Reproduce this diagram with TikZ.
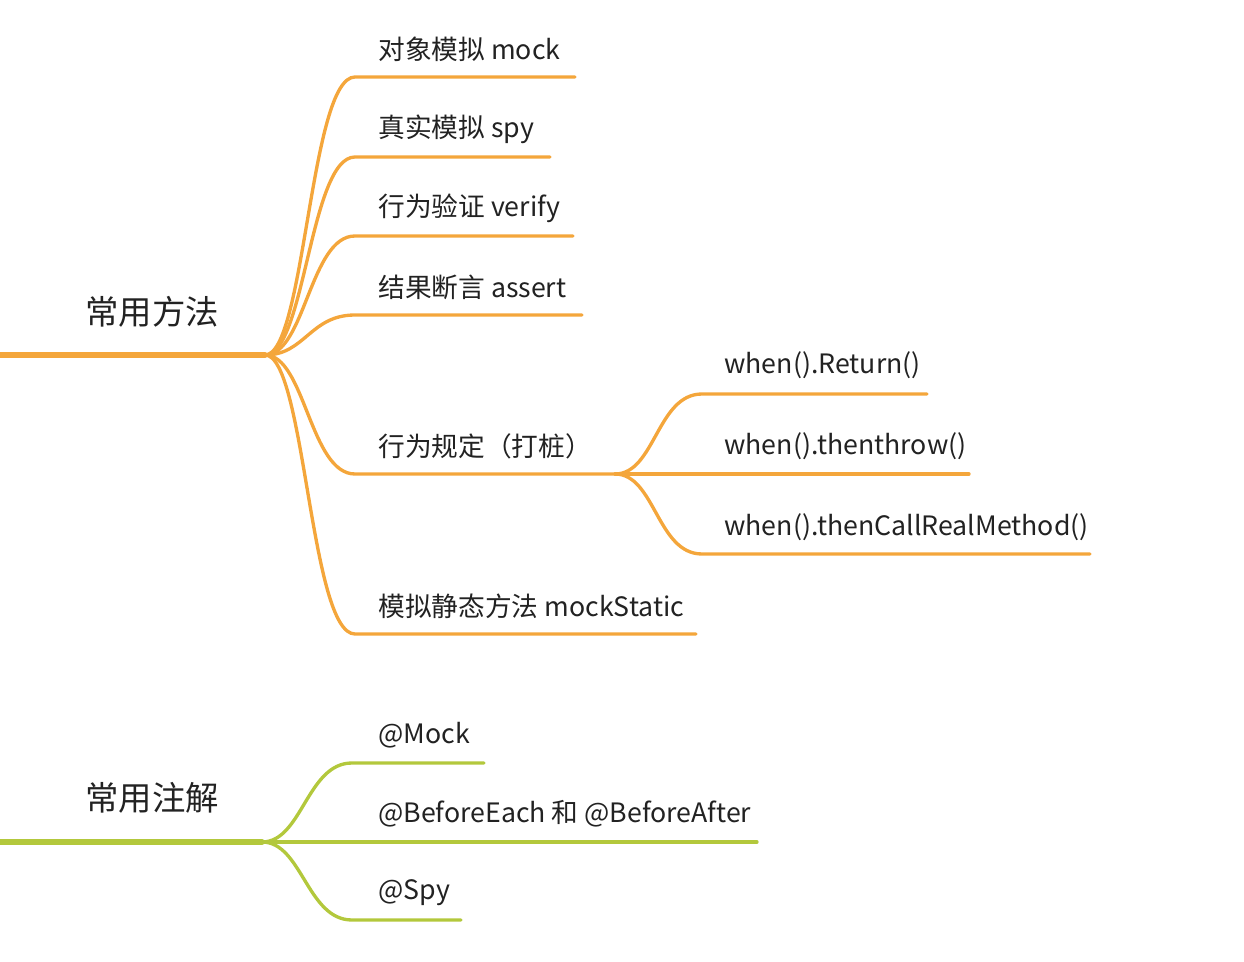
\documentclass[tikz,border=0pt]{standalone}
\usepackage{fontspec}
\setmainfont{Noto Sans CJK SC}
\definecolor{mindorange}{HTML}{F4A63B}
\definecolor{mindgreen}{HTML}{B3C83C}
\definecolor{mindtext}{HTML}{222222}

\begin{document}
\begin{tikzpicture}[x=0.02cm, y=-0.02cm,
    topic/.style={inner sep=0pt, anchor=west, text=mindtext, font=\fontsize{19pt}{22pt}\selectfont},
    leaf/.style={inner sep=0pt, anchor=west, text=mindtext, font=\fontsize{15.2pt}{18pt}\selectfont},
    trunk/.style={line width=3.2pt, line cap=round},
    twig/.style={line width=1.9pt, line cap=round},
    sbend/.style={to path={.. controls +(40,0) and +(-45,0) .. (\tikztotarget)}}]
  \useasboundingbox (0,0) rectangle (1244,962);

  % first tree
  \coordinate (s1) at (0,355);
  \coordinate (m1) at (265,355);
  \node[topic] (t1) at (85,312) {常用方法};

  \node[leaf] (mock) at (378,49) {对象模拟 mock};
  \node[leaf] (spy) at (378,129) {真实模拟 spy};
  \node[leaf] (verify) at (378,208) {行为验证 verify};
  \node[leaf] (assert) at (378,287) {结果断言 assert};
  \node[leaf] (stub) at (378,446) {行为规定（打桩）};
  \node[leaf] (static) at (378,606) {模拟静态方法 mockStatic};

  \coordinate (mock-a) at (355,77);   \coordinate (mock-b) at (575,77);
  \coordinate (spy-a) at (355,157);   \coordinate (spy-b) at (550,157);
  \coordinate (verify-a) at (355,236); \coordinate (verify-b) at (573,236);
  \coordinate (assert-a) at (355,315); \coordinate (assert-b) at (582,315);
  \coordinate (stub-a) at (355,474);  \coordinate (m2) at (615,474);
  \coordinate (static-a) at (355,634); \coordinate (static-b) at (696,634);

  \draw[trunk, mindorange] (s1) -- (m1);
  \draw[twig, mindorange] (m1) to[sbend] (mock-a) -- (mock-b);
  \draw[twig, mindorange] (m1) to[sbend] (spy-a) -- (spy-b);
  \draw[twig, mindorange] (m1) to[sbend] (verify-a) -- (verify-b);
  \draw[twig, mindorange] (m1) to[sbend] (assert-a) -- (assert-b);
  \draw[twig, mindorange] (m1) to[sbend] (stub-a) -- (m2);
  \draw[twig, mindorange] (m1) to[sbend] (static-a) -- (static-b);

  % stubbing
  \node[leaf] (ret) at (724,365) {when().Return()};
  \node[leaf] (throw) at (724,446) {when().thenthrow()};
  \node[leaf] (real) at (724,527) {when().thenCallRealMethod()};

  \coordinate (ret-a) at (702,394);   \coordinate (ret-b) at (927,394);
  \coordinate (throw-b) at (969,474);
  \coordinate (real-a) at (702,554);  \coordinate (real-b) at (1090,554);

  \draw[twig, mindorange] (m2) to[sbend] (ret-a) -- (ret-b);
  \draw[twig, mindorange] (m2) -- (throw-b);
  \draw[twig, mindorange] (m2) to[sbend] (real-a) -- (real-b);

  % second tree
  \coordinate (s3) at (0,842);
  \coordinate (m3) at (262,842);
  \node[topic] (t2) at (85,798) {常用注解};

  \node[leaf] (amock) at (378,735) {@Mock};
  \node[leaf] (aeach) at (378,814) {@BeforeEach 和 @BeforeAfter};
  \node[leaf] (aspy) at (378,893) {@Spy};

  \coordinate (amock-a) at (352,763); \coordinate (amock-b) at (484,763);
  \coordinate (aeach-b) at (757,842);
  \coordinate (aspy-a) at (352,920);  \coordinate (aspy-b) at (461,920);

  \draw[trunk, mindgreen] (s3) -- (m3);
  \draw[twig, mindgreen] (m3) to[sbend] (amock-a) -- (amock-b);
  \draw[twig, mindgreen] (m3) -- (aeach-b);
  \draw[twig, mindgreen] (m3) to[sbend] (aspy-a) -- (aspy-b);
\end{tikzpicture}
\end{document}
